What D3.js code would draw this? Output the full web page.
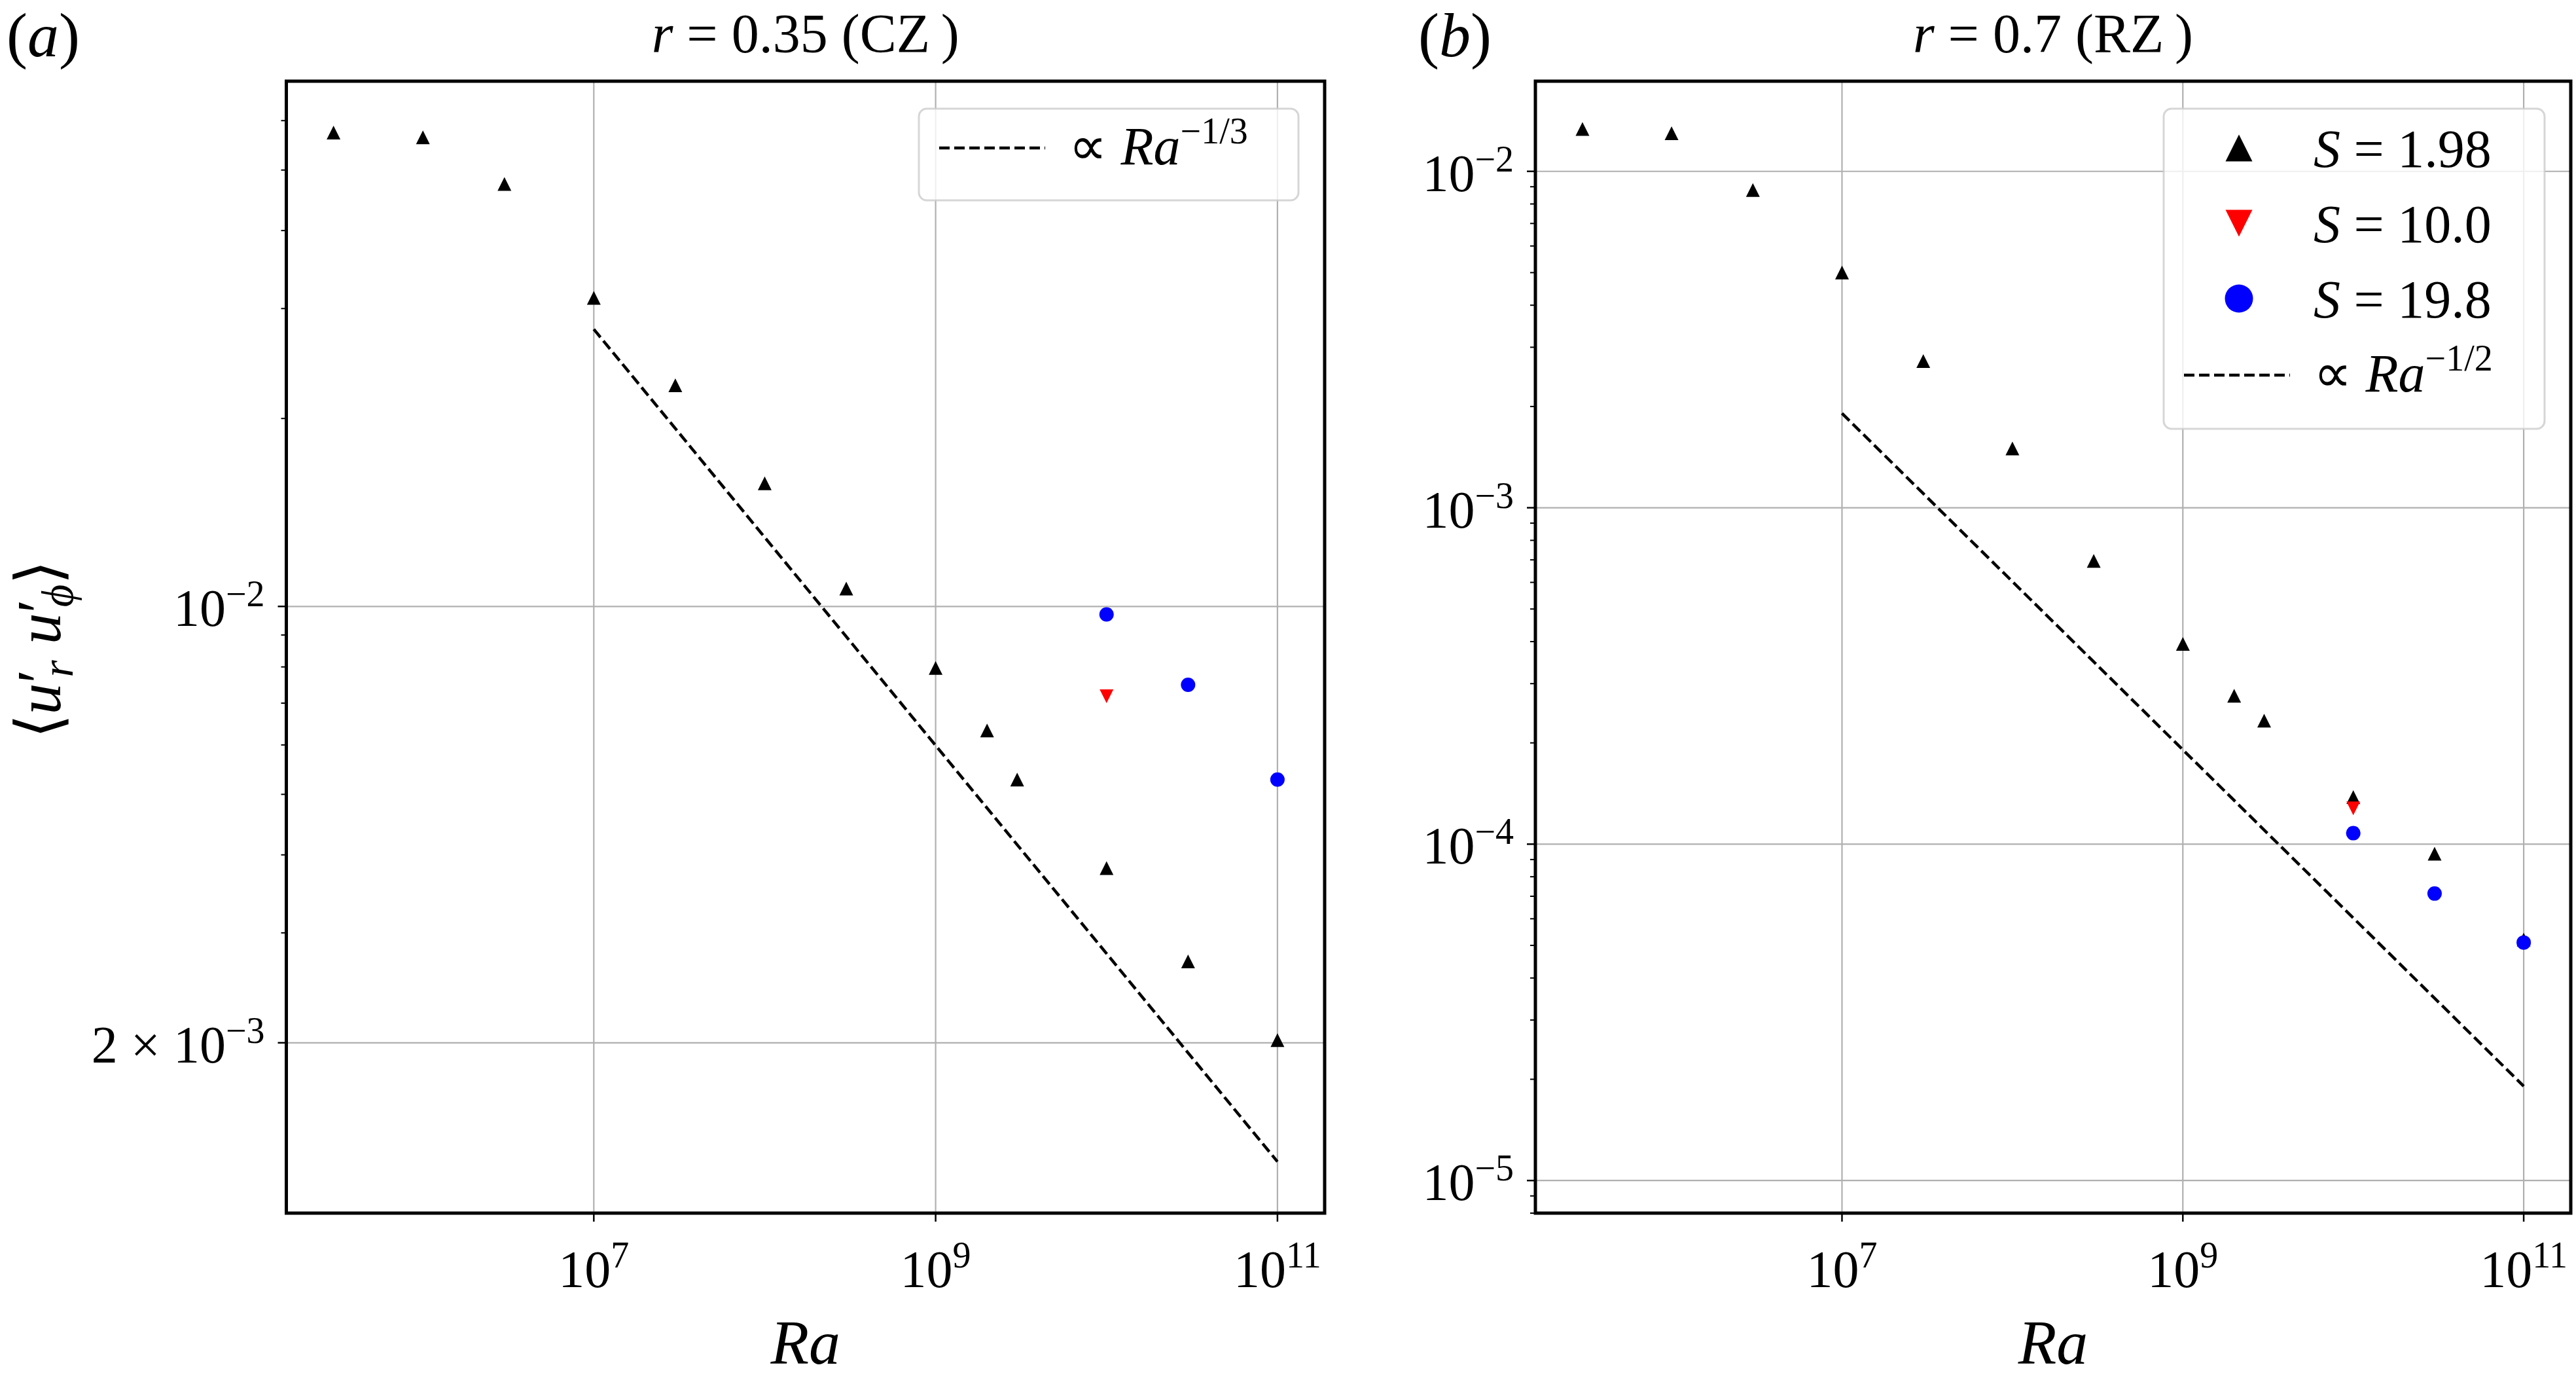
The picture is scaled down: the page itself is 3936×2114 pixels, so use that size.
<!DOCTYPE html>
<html lang="en">
<head>
<meta charset="UTF-8">
<title>Reynolds stress against Ra</title>
<script src="https://d3js.org/d3.v7.min.js"></script>
<style>
  body { margin: 0; background: #fff; }
  svg { display: block; }
</style>
</head>
<body>
<svg id="fig" width="3936" height="2114"></svg>
<script>
// Rayleigh numbers of the runs
const ra = [3e5, 1e6, 3e6, 1e7, 3e7, 1e8, 3e8, 1e9, 2e9, 3e9, 1e10, 3e10, 1e11];
const raS10 = [1e10];
const raS19 = [1e10, 3e10, 1e11];
const raFit = [1e7, 1e11];

// panel (a): r = 0.35, convection zone
const czS1 = [0.0574, 0.0564, 0.0475, 0.0312, 0.0226, 0.01575, 0.01068, 0.00797, 0.00633, 0.00528, 0.00381, 0.0027, 0.00202];
const czS10 = [0.00718];
const czS19 = [0.00971, 0.00749, 0.00528];
const czFit = [0.0278, 0.00129];

// panel (b): r = 0.7, radiative zone
const rzS1 = [0.01336, 0.01298, 0.0088, 0.005006, 0.00273, 0.0015, 0.000695, 0.000394, 0.000276, 0.000233, 0.000138, 9.37e-5, 5.2e-5];
const rzS10 = [0.0001277];
const rzS19 = [0.0001078, 7.13e-5, 5.1e-5];
const rzFit = [0.001908, 1.908e-5];
const rzBottom = 8e-6;

// ticks and labels
const xTicks = [1e7, 1e9, 1e11];
const xTickLabels = [['10', '7'], ['10', '9'], ['10', '11']];
const czTicks = [1e-2, 2e-3];
const czTickLabels = [['10', '−2'], ['2 × 10', '−3']];
const rzTicks = [1e-2, 1e-3, 1e-4, 1e-5];
const rzTickLabels = [['10', '−2'], ['10', '−3'], ['10', '−4'], ['10', '−5']];
const sLabels = ['1.98', '10.0', '19.8'];

const svg = d3.select('#fig');
const SERIF = '"Liberation Serif"';
const FS = 80;     // tick / legend font
const SUP = 56;    // superscript size

function pad(vals) {
    const e = d3.extent(vals.map(Math.log10));
    const m = 0.05 * (e[1] - e[0]);
    return [Math.pow(10, e[0] - m), Math.pow(10, e[1] + m)];
}

function txt(parent) {
    return parent.append('text').style('font-family', SERIF).attr('fill', '#000');
}

// append tspans to a text element
function rich(t, parts) {
    parts.forEach(p => {
        const s = t.append('tspan').text(p.t);
        if (p.i) s.attr('font-style', 'italic');
        if (p.s) s.attr('font-size', p.s);
        if (p.dy) s.attr('dy', p.dy);
        if (p.dx) s.attr('dx', p.dx);
    });
    return t;
}

function sup(base, exp) {
    return [{t: base}, {t: exp, s: SUP, dy: -30}];
}

function marker(kind, s) {
    const h = s / 2;
    if (kind === 'up') return `M0,${-h}L${h},${h}L${-h},${h}Z`;
    if (kind === 'down') return `M0,${h}L${h},${-h}L${-h},${-h}Z`;
    return d3.symbol(d3.symbolCircle, Math.PI * h * h)();
}

function minorTicks(dom, majors) {
    const out = [];
    const lo = Math.floor(Math.log10(dom[0])), hi = Math.ceil(Math.log10(dom[1]));
    for (let e = lo; e <= hi; e++) {
        for (let k = 1; k <= 9; k++) {
            const v = k * Math.pow(10, e);
            if (v >= dom[0] && v <= dom[1] && !majors.some(m => Math.abs(m - v) / v < 1e-6)) out.push(v);
        }
    }
    return out;
}

function drawPanel(cfg) {
    const g = svg.append('g');
    const x = d3.scaleLog().domain(cfg.xDom).range([cfg.left, cfg.right]);
    const y = d3.scaleLog().domain(cfg.yDom).range([cfg.bottom, cfg.top]);

    // grid
    g.selectAll('.gx').data(xTicks).join('line')
        .attr('x1', d => x(d)).attr('x2', d => x(d))
        .attr('y1', cfg.top).attr('y2', cfg.bottom)
        .attr('stroke', '#b0b0b0').attr('stroke-width', 2.2);
    g.selectAll('.gy').data(cfg.yTicks).join('line')
        .attr('x1', cfg.left).attr('x2', cfg.right)
        .attr('y1', d => y(d)).attr('y2', d => y(d))
        .attr('stroke', '#b0b0b0').attr('stroke-width', 2.2);

    // power-law guide
    g.append('path')
        .datum(raFit.map((r, i) => [r, cfg.fit[i]]))
        .attr('d', d3.line().x(d => x(d[0])).y(d => y(d[1])))
        .attr('fill', 'none').attr('stroke', '#000')
        .attr('stroke-width', 4.5).attr('stroke-dasharray', '16 7');

    const series = [
        {xs: ra, ys: cfg.s1, kind: 'up', color: '#000', size: 21},
        {xs: raS10, ys: cfg.s10, kind: 'down', color: '#ff0000', size: 21},
        {xs: raS19, ys: cfg.s19, kind: 'circle', color: '#0000ff', size: 22}
    ];
    series.forEach(s => {
        g.append('g').selectAll('path').data(s.xs.map((r, i) => [r, s.ys[i]])).join('path')
            .attr('transform', d => `translate(${x(d[0])},${y(d[1])})`)
            .attr('d', marker(s.kind, s.size))
            .attr('fill', s.color);
    });

    // frame
    g.append('rect')
        .attr('x', cfg.left).attr('y', cfg.top)
        .attr('width', cfg.right - cfg.left).attr('height', cfg.bottom - cfg.top)
        .attr('fill', 'none').attr('stroke', '#000').attr('stroke-width', 5);

    // x ticks
    g.selectAll('.tx').data(xTicks).join('line')
        .attr('x1', d => x(d)).attr('x2', d => x(d))
        .attr('y1', cfg.bottom).attr('y2', cfg.bottom + 13)
        .attr('stroke', '#000').attr('stroke-width', 2.5);
    xTicks.forEach((t, i) => {
        rich(txt(g).attr('x', x(t)).attr('y', cfg.bottom + 113)
            .attr('text-anchor', 'middle').attr('font-size', FS), sup(...xTickLabels[i]));
    });

    // y ticks
    g.selectAll('.ty').data(cfg.yTicks).join('line')
        .attr('x1', cfg.left - 13).attr('x2', cfg.left)
        .attr('y1', d => y(d)).attr('y2', d => y(d))
        .attr('stroke', '#000').attr('stroke-width', 2.5);
    g.selectAll('.tym').data(minorTicks(cfg.yDom, cfg.yTicks)).join('line')
        .attr('x1', cfg.left - 8).attr('x2', cfg.left)
        .attr('y1', d => y(d)).attr('y2', d => y(d))
        .attr('stroke', '#000').attr('stroke-width', 2);
    cfg.yTicks.forEach((t, i) => {
        rich(txt(g).attr('x', cfg.left - 33).attr('y', y(t) + 30)
            .attr('text-anchor', 'end').attr('font-size', FS), sup(...cfg.yTickLabels[i]));
    });

    // titles
    const cx = (cfg.left + cfg.right) / 2;
    rich(txt(g).attr('x', cx).attr('y', 80).attr('text-anchor', 'middle').attr('font-size', 84),
        [{t: 'r', i: 1}, {t: ' = ' + cfg.rval + ' (' + cfg.zone + '\u2009)'}]);
    rich(txt(g).attr('x', cfg.tagX).attr('y', 86).attr('font-size', 96),
        [{t: '('}, {t: cfg.tag, i: 1}, {t: ')'}]);
    txt(g).attr('x', cx).attr('y', 2083).attr('text-anchor', 'middle')
        .attr('font-size', 96).attr('font-style', 'italic').text('Ra');

    // legend
    const lg = g.append('g');
    const lw = cfg.legend.w, lh = cfg.legend.h;
    const lx = cfg.right - 40 - lw, ly = cfg.top + 42;
    lg.append('rect').attr('x', lx).attr('y', ly).attr('width', lw).attr('height', lh)
        .attr('rx', 12).attr('fill', '#fff').attr('fill-opacity', 0.8)
        .attr('stroke', '#cccccc').attr('stroke-opacity', 0.8).attr('stroke-width', 3);
    let row = ly + 60;
    if (cfg.legend.markers) {
        series.forEach((s, i) => {
            lg.append('path').attr('transform', `translate(${lx + 115},${row})`)
                .attr('d', marker(s.kind, s.kind === 'circle' ? 43 : 41)).attr('fill', s.color);
            rich(txt(lg).attr('x', lx + 229).attr('y', row + 29).attr('font-size', 82),
                [{t: 'S', i: 1}, {t: ' = ' + sLabels[i]}]);
            row += 115;
        });
        row += 2;
    }
    lg.append('line').attr('x1', lx + 31).attr('x2', lx + 193)
        .attr('y1', row).attr('y2', row)
        .attr('stroke', '#000').attr('stroke-width', 4.5).attr('stroke-dasharray', '16 7');
    rich(txt(lg).attr('x', lx + 229).attr('y', row + 25).attr('font-size', 82),
        [{t: '∝ '}, {t: 'Ra', i: 1}, {t: cfg.fitExp, s: SUP, dy: -32}]);
}

const xDom = pad(ra);

drawPanel({
    left: 437.5, right: 2024, top: 124, bottom: 1853,
    xDom: xDom, yDom: pad([...czS1, ...czS10, ...czS19, ...czFit]),
    s1: czS1, s10: czS10, s19: czS19, fit: czFit,
    yTicks: czTicks, yTickLabels: czTickLabels,
    rval: '0.35', zone: 'CZ', tag: 'a', tagX: 10, fitExp: '−1/3',
    legend: {w: 580, h: 140, markers: false}
});

drawPanel({
    left: 2346, right: 3928, top: 124, bottom: 1853,
    xDom: xDom, yDom: [rzBottom, pad([...rzS1, ...rzS10, ...rzS19, ...rzFit])[1]],
    s1: rzS1, s10: rzS10, s19: rzS19, fit: rzFit,
    yTicks: rzTicks, yTickLabels: rzTickLabels,
    rval: '0.7', zone: 'RZ', tag: 'b', tagX: 2167, fitExp: '−1/2',
    legend: {w: 582, h: 489, markers: true}
});

// y-axis label of panel (a)
rich(txt(svg).attr('transform', 'translate(92,992) rotate(-90)')
    .attr('text-anchor', 'middle').attr('font-size', 96),
    [{t: '⟨'}, {t: 'u', i: 1}, {t: '′'}, {t: 'r', i: 1, s: 67, dy: 19, dx: -12},
     {t: ' ', dy: -19}, {t: 'u', i: 1}, {t: '′'}, {t: 'ϕ', i: 1, s: 67, dy: 19, dx: -12},
     {t: '⟩', dy: -19}]);
</script>
</body>
</html>
